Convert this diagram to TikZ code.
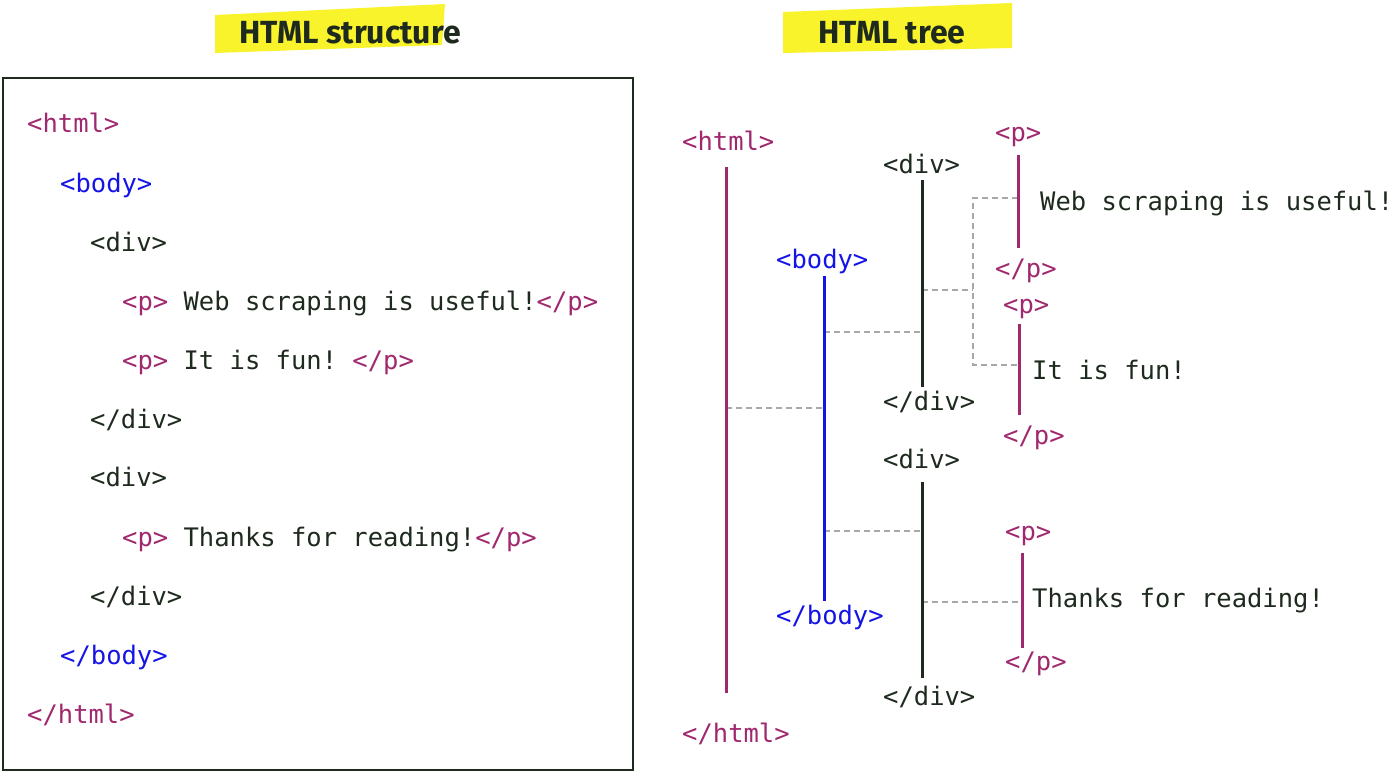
\documentclass[tikz,border=0pt]{standalone}
\usepackage{fontspec}
\setmonofont{DejaVu Sans Mono}
\newfontfamily\titlefont{Fira Sans}
\definecolor{tagm}{HTML}{A0286E}
\definecolor{tagb}{HTML}{1414E6}
\definecolor{ink}{HTML}{1E2A1E}
\definecolor{hl}{HTML}{F8F32A}
\definecolor{dashc}{HTML}{A8A8A8}
\begin{document}
\begin{tikzpicture}[x=1pt,y=-1pt,
  code/.style={anchor=base west,inner sep=0pt,font=\ttfamily\fontsize{25.5}{30}\selectfont,text=ink},
  ttl/.style={inner sep=0pt,font=\titlefont\bfseries\fontsize{32}{34}\selectfont,text=ink},
  mline/.style={line width=3pt,tagm},
  bline/.style={line width=3pt,tagb},
  dline/.style={line width=3pt,ink},
  conn/.style={dashc,line width=1.5pt,dash pattern=on 6pt off 4pt}]
\useasboundingbox (0,0) rectangle (1400,773);
% titles
\fill[hl] (215,15) -- (445,4) -- (442,45) -- (215,53) -- cycle;
\node[ttl] (t1) at (350,33) {HTML structure};
\fill[hl] (783,12) -- (1012,3) -- (1012,48) -- (783,53) -- cycle;
\node[ttl] (t2) at (892,33) {HTML tree};
% left box
\draw[ink,line width=2pt] (3,78) rectangle (633,770);
\node[code,text=tagm] (l1) at (27,133) {<html>};
\node[code,text=tagb] (l2) at (60,192) {<body>};
\node[code] (l3) at (90,251) {<div>};
\node[code] (l4) at (122,310) {\textcolor{tagm}{<p>} Web scraping is useful!\textcolor{tagm}{</p>}};
\node[code] (l5) at (122,369) {\textcolor{tagm}{<p>} It is fun! \textcolor{tagm}{</p>}};
\node[code] (l6) at (90,428) {</div>};
\node[code] (l7) at (90,486) {<div>};
\node[code] (l8) at (122,546) {\textcolor{tagm}{<p>} Thanks for reading!\textcolor{tagm}{</p>}};
\node[code] (l9) at (90,605) {</div>};
\node[code,text=tagb] (l10) at (60,664) {</body>};
\node[code,text=tagm] (l11) at (27,723) {</html>};
% tree labels
\node[code,text=tagm] (ho) at (682,150) {<html>};
\node[code,text=tagm] (hc) at (682,742) {</html>};
\node[code,text=tagb] (bo) at (776,268) {<body>};
\node[code,text=tagb] (bc) at (776,624) {</body>};
\node[code] (d1o) at (883,173) {<div>};
\node[code] (d1c) at (883,410) {</div>};
\node[code] (d2o) at (883,468) {<div>};
\node[code] (d2c) at (883,705) {</div>};
\node[code,text=tagm] (p1o) at (995,142) {<p>};
\node[code,text=tagm] (p1c) at (995,277) {</p>};
\node[code] (p1t) at (1040,210) {Web scraping is useful!};
\node[code,text=tagm] (p2o) at (1003,313) {<p>};
\node[code,text=tagm] (p2c) at (1003,444) {</p>};
\node[code] (p2t) at (1032,379) {It is fun!};
\node[code,text=tagm] (p3o) at (1005,540) {<p>};
\node[code,text=tagm] (p3c) at (1005,670) {</p>};
\node[code] (p3t) at (1032,607) {Thanks for reading!};
% line endpoints
\coordinate (hA) at (726,167); \coordinate (hB) at (726,693);
\coordinate (bA) at (824,276); \coordinate (bB) at (824,601);
\coordinate (d1A) at (922,180); \coordinate (d1B) at (922,387);
\coordinate (d2A) at (922,482); \coordinate (d2B) at (922,678);
\coordinate (p1A) at (1018,155); \coordinate (p1B) at (1018,248);
\coordinate (p2A) at (1019,324); \coordinate (p2B) at (1019,415);
\coordinate (p3A) at (1022,553); \coordinate (p3B) at (1022,648);
% connectors (dashed)
\coordinate (c1a) at (726,408); \coordinate (c1b) at (824,408);
\coordinate (c2a) at (824,332); \coordinate (c2b) at (922,332);
\coordinate (c3a) at (824,531); \coordinate (c3b) at (922,531);
\coordinate (c4a) at (922,290); \coordinate (c4b) at (973,290);
\coordinate (k1) at (1018,198); \coordinate (k2) at (1019,365);
\coordinate (c5a) at (922,602); \coordinate (c5b) at (1022,602);
\draw[conn] (c1a) -- (c1b);
\draw[conn] (c2a) -- (c2b);
\draw[conn] (c3a) -- (c3b);
\draw[conn] (c4a) -- (c4b);
\draw[conn] (k1) -- (k1 -| c4b) -- (k2 -| c4b) -- (k2);
\draw[conn] (c5a) -- (c5b);
% vertical tree lines
\draw[mline] (hA) -- (hB);
\draw[bline] (bA) -- (bB);
\draw[dline] (d1A) -- (d1B);
\draw[dline] (d2A) -- (d2B);
\draw[mline] (p1A) -- (p1B);
\draw[mline] (p2A) -- (p2B);
\draw[mline] (p3A) -- (p3B);
\end{tikzpicture}
\end{document}
